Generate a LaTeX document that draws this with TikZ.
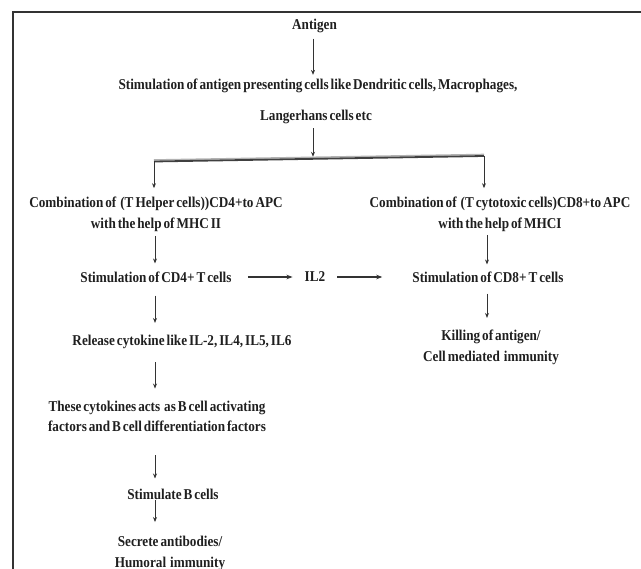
\documentclass[tikz,border=0pt]{standalone}
\usepackage{fontspec}
\setmainfont{Liberation Serif}[FakeStretch=0.88, WordSpace=0.6]
\usetikzlibrary{arrows.meta}
\begin{document}
\begin{tikzpicture}[x=1pt,y=-1pt,
  txt/.style={inner sep=0pt, align=center, text=black!88,
    font=\bfseries\fontsize{15}{20.5}\selectfont},
  varrow/.style={draw=black!80, line width=0.9pt, -{Stealth[length=5pt,width=4pt]}},
  harrow/.style={draw=black!80, line width=1.5pt, -{Stealth[length=6pt,width=4.5pt]}},
  barline/.style={draw=black!75, line width=1.8pt},
  barshadow/.style={draw=black!30, line width=1.4pt},
  frameline/.style={draw=black!80, line width=1.3pt}]
\useasboundingbox (0,0) rectangle (641,569);
\draw[frameline] (641,12) -- (13,12) -- (13,569);

% column x positions
\coordinate (lx) at (155,0);
\coordinate (rx) at (487,0);

\node[txt] (antigen) at (314.5,25.5) {Antigen};
\node[txt] (apc1) at (318,86) {Stimulation of antigen presenting cells like Dendritic cells, Macrophages,};
\node[txt] (apc2) at (316,117) {Langerhans cells etc};

\coordinate (bl) at (154,161.5);
\coordinate (br) at (484,156);
\coordinate (split) at (313,158.8);

\node[txt] (combL) at (156,214.5) {Combination of~ (T Helper cells))CD4+to APC\\with the help of MHC II};
\node[txt] (combR) at (500,214.5) {Combination of~ (T cytotoxic cells)CD8+to APC\\with the help of MHCI};

\node[txt] (stim4) at (156,277) {Stimulation of CD4+ T cells};
\node[txt] (il2) at (315,277) {IL2};
\node[txt] (stim8) at (488,277) {Stimulation of CD8+ T cells};

\node[txt] (release) at (182,342) {Release cytokine like IL-2, IL4, IL5, IL6};
\node[txt] (kill) at (491,347.3) {Killing of antigen/\\Cell mediated~ immunity};

\node[txt] (cyto) at (157,416.3) {These cytokines acts~ as B cell activating\\factors and B cell differentiation factors};
\node[txt] (stimB) at (173,494) {Stimulate B cells};
\node[txt] (secrete) at (170,553.3) {Secrete antibodies/\\Humoral~ immunity};

% connectors
\draw[varrow, shorten <=6pt, shorten >=4pt] (antigen.south -| split) -- (apc1.north -| split);
\draw[varrow, shorten <=4pt, shorten >=2pt] (apc2.south -| split) -- (split);
\draw[barshadow] ([yshift=1.6pt]bl) -- ([yshift=1.6pt]br);
\draw[barline] (bl) -- (br);
\draw[varrow, shorten >=9pt] (bl) -- (bl |- combL.north);
\draw[varrow, shorten >=9pt] (br) -- (br |- combR.north);

\draw[varrow, shorten <=4pt, shorten >=8pt] (combL.south -| lx) -- (stim4.north -| lx);
\draw[varrow, shorten <=13pt, shorten >=12pt] (stim4.south -| lx) -- (release.north -| lx);
\draw[varrow, shorten <=13pt, shorten >=12pt] (release.south -| lx) -- (cyto.north -| lx);
\draw[varrow, shorten <=23pt, shorten >=10pt] (cyto.south -| lx) -- (stimB.north -| lx);
\draw[varrow, shorten <=1pt, shorten >=14pt] (stimB.south -| lx) -- (secrete.north -| lx);

\draw[varrow, shorten <=3pt, shorten >=7pt] (combR.south -| rx) -- (stim8.north -| rx);
\draw[varrow, shorten <=11pt, shorten >=12pt] (stim8.south -| rx) -- (kill.north -| rx);

\draw[harrow, shorten <=16pt, shorten >=12pt] (stim4.east) -- (il2.west);
\draw[harrow, shorten <=12pt, shorten >=30pt] (il2.east) -- (stim8.west);
\end{tikzpicture}
\end{document}
